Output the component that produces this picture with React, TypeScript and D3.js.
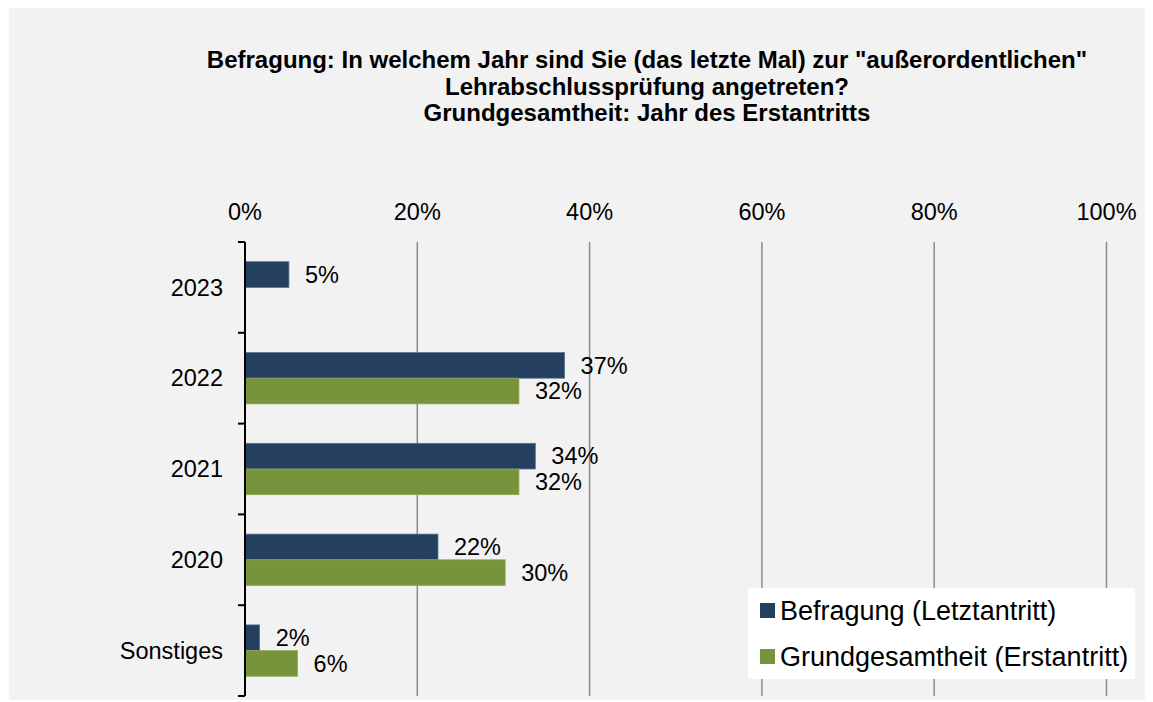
import React from "react";
import * as d3 from "d3";

const categories = ["2023", "2022", "2021", "2020", "Sonstiges"];
const seriesNames = ["Befragung (Letztantritt)", "Grundgesamtheit (Erstantritt)"];
const letzt = [5.1, 37.1, 33.7, 22.4, 1.7];
const erst: (number | null)[] = [null, 31.8, 31.8, 30.2, 6.1];
const xTicks = [0, 20, 40, 60, 80, 100];
const titleLines = [
  'Befragung: In welchem Jahr sind Sie (das letzte Mal) zur "außerordentlichen"',
  "Lehrabschlussprüfung angetreten?",
  "Grundgesamtheit: Jahr des Erstantritts",
];

const W = 1145;
const H = 694;
const font = "'Liberation Sans', Arial, sans-serif";
const colors = ["#253f60", "#77933c"];

const App = () => {
  const x = d3.scaleLinear().domain([0, 100]).range([245, 1106.5]);
  const y = d3
    .scaleBand()
    .domain(categories)
    .range([242, 696])
    .paddingInner(0.434)
    .paddingOuter(0.217);
  const y1 = d3.scaleBand().domain(["a", "b"]).range([0, y.bandwidth()]);
  const step = y.step();
  const boundaries = d3.range(categories.length + 1).map((i) => 242 + i * step);

  const series = [letzt, erst];

  return (
    <svg width={W} height={H} style={{ display: "block" }}>
      <g transform="translate(-8,-8)">
        <rect x={9} y={8} width={1143} height={692} fill="#f2f2f2" />

        {/* title */}
        <text textAnchor="middle" fontFamily={font} fontWeight="bold" fontSize={24} fill="#000">
          {titleLines.map((t, i) => (
            <tspan key={i} x={647} y={68 + i * 26.7}>
              {t}
            </tspan>
          ))}
        </text>

        {/* grid + x tick labels */}
        {xTicks.map((t) => (
          <g key={t}>
            {t > 0 && (
              <line x1={x(t)} x2={x(t)} y1={242} y2={696} stroke="#8c8c8c" strokeWidth={1.5} />
            )}
            <text
              x={x(t)}
              y={212}
              dy="0.35em"
              textAnchor="middle"
              fontFamily={font}
              fontSize={23.5}
              fill="#000"
            >
              {t}%
            </text>
          </g>
        ))}

        {/* bars */}
        {series.map((vals, s) =>
          categories.map((c, i) => {
            const v = vals[i];
            if (v == null) return null;
            const by = (y(c) as number) + (y1(s === 0 ? "a" : "b") as number);
            const bh = y1.bandwidth();
            return (
              <g key={`${s}-${c}`}>
                <rect
                  x={x(0)}
                  y={by}
                  width={x(v) - x(0)}
                  height={bh}
                  fill={colors[s]}
                  stroke={s === 0 ? "#5a7391" : "#8fa85a"}
                  strokeWidth={0.75}
                />
                <text
                  x={x(v) + 16}
                  y={by + bh / 2}
                  dy="0.35em"
                  fontFamily={font}
                  fontSize={23.5}
                  fill="#000"
                >
                  {Math.round(v)}%
                </text>
              </g>
            );
          })
        )}

        {/* y axis */}
        <line x1={245} x2={245} y1={242} y2={696} stroke="#000" strokeWidth={2} />
        {boundaries.map((b, i) => (
          <line key={i} x1={238} x2={245} y1={b} y2={b} stroke="#000" strokeWidth={2} />
        ))}
        {categories.map((c) => (
          <text
            key={c}
            x={223}
            y={(y(c) as number) + y.bandwidth() / 2}
            dy="0.35em"
            textAnchor="end"
            fontFamily={font}
            fontSize={23.5}
            fill="#000"
          >
            {c}
          </text>
        ))}

        {/* legend */}
        <rect x={748} y={588} width={387} height={91} fill="#ffffff" />
        {seriesNames.map((n, i) => (
          <g key={n}>
            <rect x={760} y={603 + i * 46} width={15} height={15} fill={colors[i]} />
            <text
              x={780}
              y={610.5 + i * 46}
              dy="0.35em"
              fontFamily={font}
              fontSize={27}
              fill="#000"
            >
              {n}
            </text>
          </g>
        ))}
      </g>
    </svg>
  );
};

export default App;
